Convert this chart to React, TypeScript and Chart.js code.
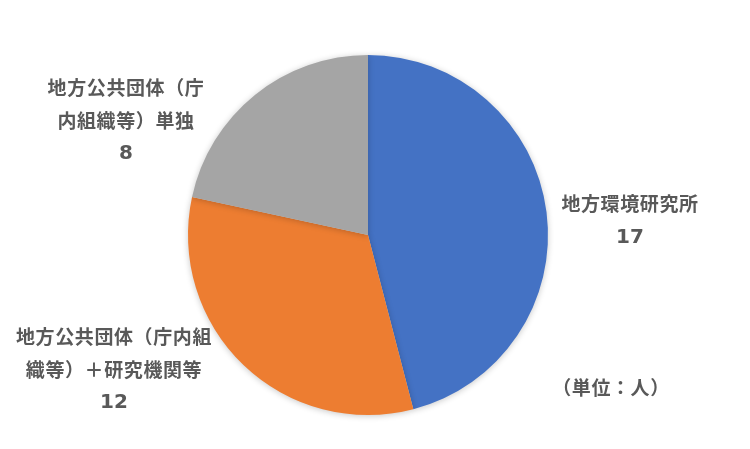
import React, { useEffect, useRef } from "react";
import { Chart, registerables } from "chart.js";

Chart.register(...registerables);

const categories = ["地方環境研究所", "地方公共団体（庁内組織等）＋研究機関等", "地方公共団体（庁内組織等）単独"];
const values = [17, 12, 8];
const colors = ["#4472C4", "#ED7D31", "#A5A5A5"];
const labelLines = [
  ["地方環境研究所"],
  ["地方公共団体（庁内組", "織等）＋研究機関等"],
  ["地方公共団体（庁", "内組織等）単独"],
];
const unitLabel = "（単位：人）";

const FONT = '"Noto Sans CJK JP", "Noto Sans", sans-serif';
const NUMFONT = '"DejaVu Sans", sans-serif';

const labelPlugin = {
  id: "outerLabels",
  afterDraw(chart: any) {
    const ctx = chart.ctx;
    const meta = chart.getDatasetMeta(0);
    ctx.save();
    ctx.fillStyle = "#595959";
    ctx.textAlign = "center";
    ctx.textBaseline = "middle";
    const anchors = [
      { x: 630, y: 204 },
      { x: 114, y: 337 },
      { x: 126, y: 88 },
    ];
    const lineH = 32.5;
    meta.data.forEach((arc: any, i: number) => {
      const a = anchors[i];
      ctx.font = `bold 19px ${FONT}`;
      ctx.letterSpacing = "0.6px";
      labelLines[i].forEach((t, j) => {
        ctx.fillText(t, a.x, a.y + j * lineH);
      });
      ctx.font = `bold 20px ${NUMFONT}`;
      ctx.letterSpacing = "0px";
      ctx.fillText(String(values[i]), a.x, a.y + labelLines[i].length * lineH + 1);
    });
    ctx.font = `bold 19px ${FONT}`;
    ctx.letterSpacing = "0.6px";
    ctx.fillText(unitLabel, 611, 388);
    ctx.restore();
  },
};

const shadowPlugin = {
  id: "pieShadow",
  beforeDatasetsDraw(chart: any) {
    const ctx = chart.ctx;
    ctx.save();
    ctx.shadowColor = "rgba(0,0,0,0.22)";
    ctx.shadowBlur = 6;
    ctx.shadowOffsetX = 0;
    ctx.shadowOffsetY = 1;
  },
  afterDatasetsDraw(chart: any) {
    chart.ctx.restore();
  },
};

export default function App() {
  const ref = useRef<HTMLCanvasElement | null>(null);
  useEffect(() => {
    if (!ref.current) return;
    const chart = new Chart(ref.current, {
      type: "pie",
      data: {
        labels: categories,
        datasets: [
          {
            data: values,
            backgroundColor: colors,
            borderWidth: 0,
          },
        ],
      },
      options: {
        responsive: false,
        animation: false,
        layout: { padding: { left: 188, right: 202, top: 55, bottom: 34 } },
        plugins: {
          legend: { display: false },
          tooltip: { enabled: false },
        },
      },
      plugins: [shadowPlugin, labelPlugin],
    });
    return () => chart.destroy();
  }, []);
  return (
    <div style={{ position: "absolute", left: 0, top: 0, width: 750, height: 449, background: "#fff" }}>
      <canvas ref={ref} width={750} height={449} />
    </div>
  );
}
